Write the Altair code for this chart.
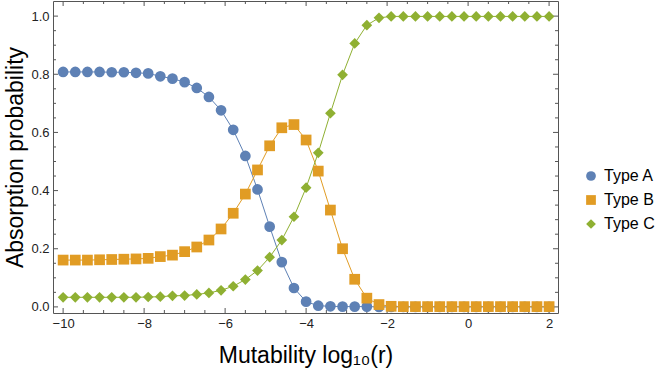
import altair as alt
import pandas as pd

# x positions (log10 r)
log_r = [-10.0, -9.7, -9.4, -9.1, -8.8, -8.5, -8.2, -7.9, -7.6, -7.3,
         -7.0, -6.7, -6.4, -6.1, -5.8, -5.5, -5.2, -4.9, -4.6, -4.3,
         -4.0, -3.7, -3.4, -3.1, -2.8, -2.5, -2.2, -1.9, -1.6, -1.3,
         -1.0, -0.7, -0.4, -0.1, 0.2, 0.5, 0.8, 1.1, 1.4, 1.7, 2.0]

type_a = [0.808, 0.808, 0.808, 0.808, 0.807, 0.807, 0.805, 0.803, 0.793, 0.785,
          0.773, 0.753, 0.722, 0.676, 0.609, 0.519, 0.404, 0.276, 0.154, 0.065,
          0.018, 0.004, 0.002, 0.001, 0.001, 0.001, 0.0, 0.0, 0.0, 0.0,
          0.0, 0.0, 0.0, 0.0, 0.0, 0.0, 0.0, 0.0, 0.0, 0.0, 0.0]

type_b = [0.161, 0.161, 0.161, 0.162, 0.163, 0.164, 0.165, 0.167, 0.173, 0.178,
          0.190, 0.206, 0.230, 0.268, 0.322, 0.388, 0.471, 0.554, 0.616, 0.627,
          0.574, 0.467, 0.333, 0.200, 0.095, 0.030, 0.008, 0.002, 0.001, 0.001,
          0.001, 0.001, 0.001, 0.001, 0.001, 0.001, 0.001, 0.001, 0.001, 0.001, 0.001]

type_c = [0.033, 0.033, 0.033, 0.033, 0.033, 0.033, 0.033, 0.034, 0.035, 0.038,
          0.039, 0.043, 0.048, 0.057, 0.071, 0.094, 0.125, 0.171, 0.230, 0.310,
          0.410, 0.530, 0.666, 0.798, 0.906, 0.969, 0.994, 0.999, 0.999, 0.999,
          0.999, 0.999, 0.999, 0.999, 0.999, 0.999, 0.999, 0.999, 0.999, 0.999, 0.999]

series_names = ["Type A", "Type B", "Type C"]
series_colors = ["#5E81B5", "#E19C24", "#8FB032"]
series_shapes = ["circle", "square", "diamond"]

x_major = [-10, -8, -6, -4, -2, 0, 2]
x_minor = [-9.5, -9, -8.5, -7.5, -7, -6.5, -5.5, -5, -4.5, -3.5, -3, -2.5,
           -1.5, -1, -0.5, 0.5, 1, 1.5]
y_major = [0.0, 0.2, 0.4, 0.6, 0.8, 1.0]
y_minor = [0.05, 0.1, 0.15, 0.25, 0.3, 0.35, 0.45, 0.5, 0.55, 0.65, 0.7, 0.75,
           0.85, 0.9, 0.95]

W, H = 505, 312

rows = []
for name, vals in zip(series_names, [type_a, type_b, type_c]):
    for xv, yv in zip(log_r, vals):
        rows.append({"x": xv, "y": yv, "series": name})
df = pd.DataFrame(rows)

xscale = alt.Scale(domain=[-10.25, 2.22], nice=False, zero=False)
yscale = alt.Scale(domain=[-0.021, 1.052], nice=False, zero=False)

frame_color = "#555555"

xaxis = alt.Axis(values=x_major, ticks=False, domain=False, grid=False,
                 labelFontSize=13, labelPadding=4, labelColor="#222222",
                 labelFont="Liberation Sans",
                 title="Mutability log₁₀(r)", titleFontSize=23,
                 titleFont="Liberation Sans", titleFontWeight="normal",
                 titleColor="#000000", titlePadding=14)
yaxis = alt.Axis(values=y_major, format=".1f", ticks=False, domain=False,
                 grid=False, labelFontSize=13, labelPadding=4,
                 labelColor="#222222", labelFont="Liberation Sans",
                 title="Absorption probability", titleFontSize=23,
                 titleFont="Liberation Sans", titleFontWeight="normal",
                 titleColor="#000000", titlePadding=3)

line_layers = []
for name, col in zip(series_names, series_colors):
    line_layers.append(
        alt.Chart(df).transform_filter(alt.datum.series == name)
        .mark_line(strokeWidth=1, color=col)
        .encode(x=alt.X("x:Q", scale=xscale, axis=xaxis),
                y=alt.Y("y:Q", scale=yscale, axis=yaxis))
    )

points = alt.Chart(df).mark_point(filled=True, size=115, opacity=1).encode(
    x=alt.X("x:Q", scale=xscale, axis=xaxis),
    y=alt.Y("y:Q", scale=yscale, axis=yaxis),
    color=alt.Color("series:N", scale=alt.Scale(domain=series_names, range=series_colors),
                    title=None),
    shape=alt.Shape("series:N", scale=alt.Scale(domain=series_names, range=series_shapes),
                    title=None),
)

# frame ticks (inward), positioned by the scales
def xticks(vals, length):
    d = pd.DataFrame({"v": vals})
    bottom = alt.Chart(d).mark_rule(color=frame_color, strokeWidth=1).encode(
        x=alt.X("v:Q", scale=xscale, axis=xaxis), y=alt.value(H), y2=alt.value(H - length))
    top = alt.Chart(d).mark_rule(color=frame_color, strokeWidth=1).encode(
        x=alt.X("v:Q", scale=xscale, axis=xaxis), y=alt.value(0), y2=alt.value(length))
    return [bottom, top]

def yticks(vals, length):
    d = pd.DataFrame({"v": vals})
    left = alt.Chart(d).mark_rule(color=frame_color, strokeWidth=1).encode(
        y=alt.Y("v:Q", scale=yscale, axis=yaxis), x=alt.value(0), x2=alt.value(length))
    right = alt.Chart(d).mark_rule(color=frame_color, strokeWidth=1).encode(
        y=alt.Y("v:Q", scale=yscale, axis=yaxis), x=alt.value(W), x2=alt.value(W - length))
    return [left, right]

layers = line_layers + xticks(x_major, 5) + xticks(x_minor, 3) + yticks(y_major, 5) \
    + yticks(y_minor, 3) + [points]

chart = alt.layer(*layers).properties(
    width=W, height=H,
    autosize=alt.AutoSizeParams(type="none"),
    padding={"left": 53, "top": 1, "right": 99, "bottom": 57},
    background="white",
).configure_view(stroke=frame_color, strokeWidth=1).configure_legend(
    orient="none", legendX=530, legendY=167,
    labelFontSize=16, labelFont="Liberation Sans", labelColor="#000000",
    symbolSize=95, rowPadding=8, labelOffset=5, padding=0,
)

chart.save("out.html", embed_options={"renderer": "svg", "actions": False})
